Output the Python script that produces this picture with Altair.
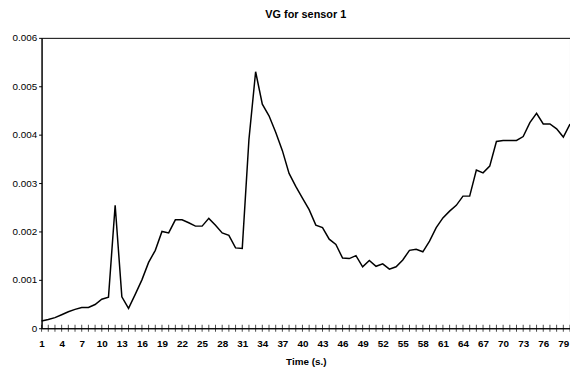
import altair as alt
import pandas as pd

time_s = list(range(1, 81))
vg = [0.00015, 0.00018, 0.00022, 0.00028, 0.00034, 0.00039, 0.00043, 0.00043, 0.00049, 0.00060,
      0.00064, 0.00254, 0.00065, 0.00041, 0.00070, 0.00100, 0.00136, 0.00161, 0.00200, 0.00197,
      0.00224, 0.00224, 0.00218, 0.00211, 0.00211, 0.00227, 0.00213, 0.00197, 0.00192, 0.00166,
      0.00165, 0.00390, 0.00530, 0.00463, 0.00439, 0.00405, 0.00367, 0.00320, 0.00293, 0.00269,
      0.00245, 0.00213, 0.00208, 0.00184, 0.00173, 0.00145, 0.00144, 0.00150, 0.00127, 0.00140,
      0.00128, 0.00133, 0.00122, 0.00127, 0.00141, 0.00161, 0.00163, 0.00158, 0.00180, 0.00208,
      0.00228, 0.00242, 0.00254, 0.00273, 0.00273, 0.00327, 0.00321, 0.00335, 0.00386, 0.00388,
      0.00388, 0.00388, 0.00396, 0.00425, 0.00444, 0.00422, 0.00422, 0.00412, 0.00395, 0.00422]
y_ticks = [0, 0.001, 0.002, 0.003, 0.004, 0.005, 0.006]
x_labels = list(range(1, 80, 3))

df = pd.DataFrame({"t": time_s, "v": vg})
ticks_df = pd.DataFrame({"t": time_s, "v": [0] * len(time_s)})

FONT = "Liberation Sans"

x_scale = alt.Scale(domain=[1, 80], nice=False, zero=False)
y_scale = alt.Scale(domain=[0, 0.006], nice=False)

x_axis = alt.Axis(title="Time (s.)", values=x_labels, ticks=False,
                  labelOverlap=False, labelFlush=False, labelBound=False,
                  labelSeparation=0,
                  labelPadding=10, labelFont=FONT, labelFontSize=10,
                  labelColor="black", labelFontWeight="bold",
                  titleFont=FONT, titleFontSize=10, titleFontWeight="bold",
                  titleColor="black", titlePadding=9,
                  domainColor="black", domainWidth=1, grid=False)
y_axis = alt.Axis(title=None, values=y_ticks,
                  labelExpr="datum.value == 0 ? '0' : format(datum.value, '.3f')",
                  labelOverlap=False,
                  labelFont=FONT, labelFontSize=10, labelColor="black",
                  tickSize=3, tickColor="black", labelPadding=2,
                  domainColor="black", domainWidth=1, grid=False)

line = alt.Chart(df).mark_line(color="black", strokeWidth=1.5).encode(
    x=alt.X("t:Q", scale=x_scale, axis=x_axis),
    y=alt.Y("v:Q", scale=y_scale, axis=y_axis),
)

cross_ticks = alt.Chart(ticks_df).mark_tick(color="black", size=7, thickness=1,
                                             orient="vertical").encode(
    x=alt.X("t:Q", scale=x_scale, axis=x_axis),
    y=alt.Y("v:Q", scale=y_scale, axis=y_axis),
)

chart = alt.layer(line, cross_ticks).properties(
    width=535, height=294,
    title=alt.TitleParams("VG for sensor 1", font=FONT, fontSize=11, fontWeight="bold",
                          color="black", anchor="middle", offset=13),
    autosize=alt.AutoSizeParams(type="none"),
    padding={"left": 34, "top": 28, "right": 0, "bottom": 37},
).configure_view(stroke="black", strokeWidth=1).configure_axis(labelOverlap=False)

chart.save("out.html", embed_options={"renderer": "svg", "actions": False})
